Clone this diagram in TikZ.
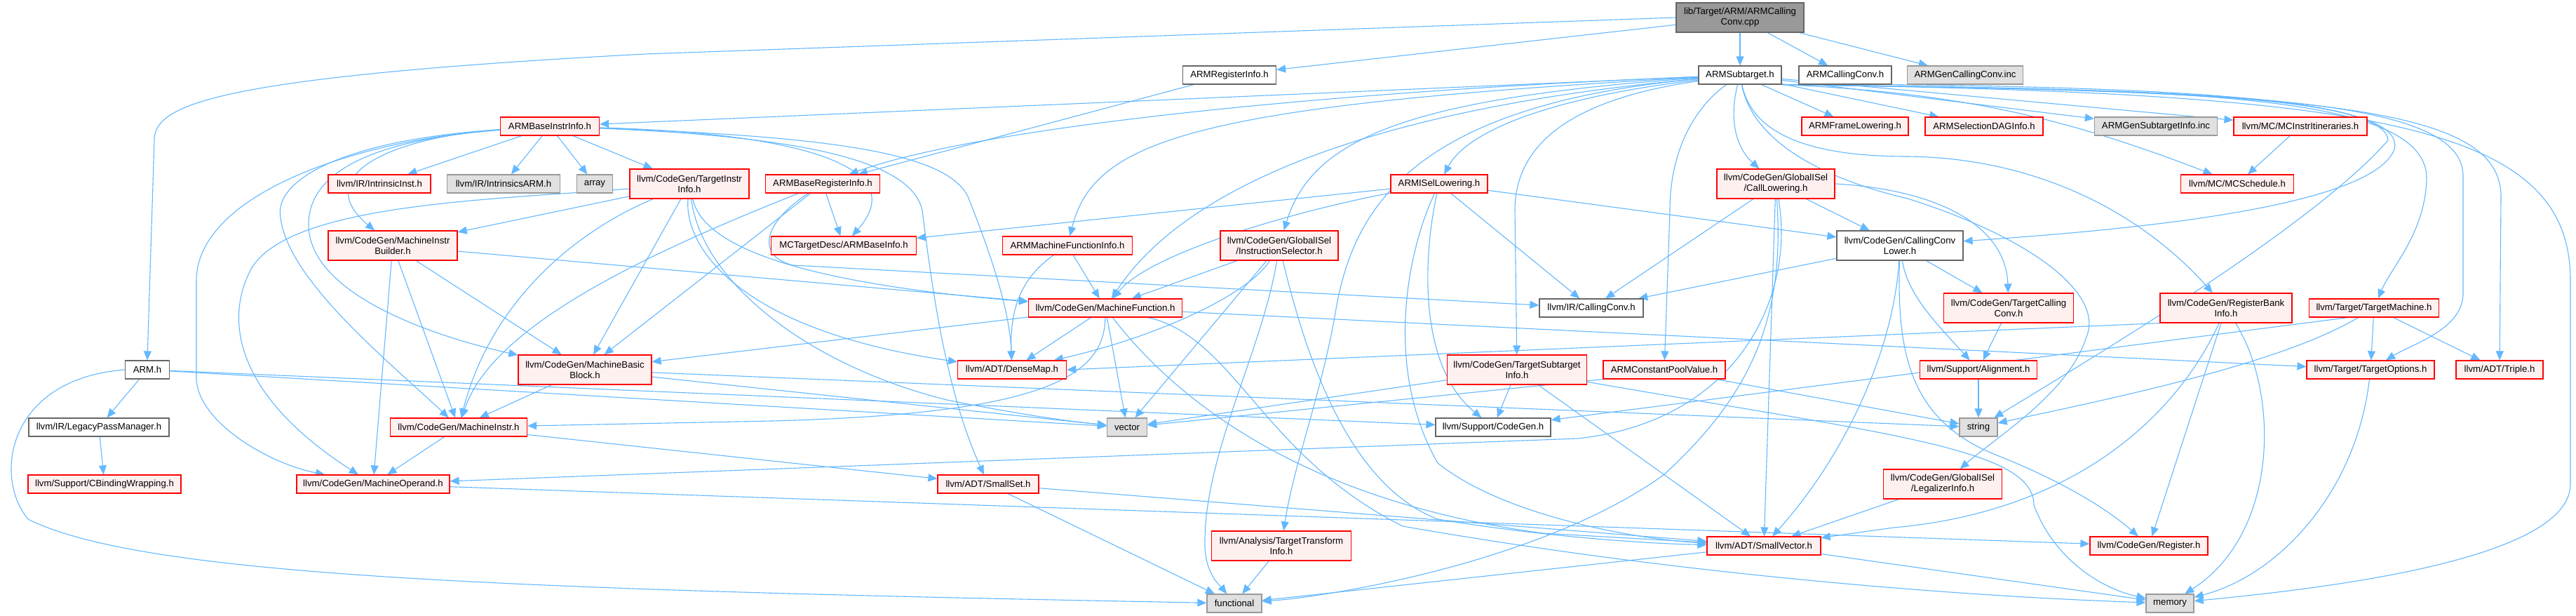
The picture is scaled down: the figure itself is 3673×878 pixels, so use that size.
\documentclass[tikz,border=0pt]{standalone}
\usepackage{fontspec}
\setmainfont{Liberation Sans}
\usetikzlibrary{arrows.meta,backgrounds}
\definecolor{edgec}{RGB}{99,184,255}
\definecolor{redfill}{RGB}{255,240,240}
\definecolor{redline}{RGB}{255,0,0}
\definecolor{grayfill}{RGB}{224,224,224}
\definecolor{grayline}{RGB}{153,153,153}
\definecolor{darkline}{RGB}{102,102,102}
\definecolor{topfill}{RGB}{153,153,153}
\begin{document}
\begin{tikzpicture}[x=1pt,y=-1pt,
 nd/.style={draw, line width=1.2pt, inner sep=0pt, minimum height=26pt, align=center, font=\fontsize{13.2}{15}\selectfont},
 rd/.style={nd, draw=redline, fill=redfill},
 wt/.style={nd, draw=darkline, fill=white},
 gy/.style={nd, draw=grayline, fill=grayfill},
 tp/.style={nd, draw=darkline, fill=topfill},
 two/.style={minimum height=42pt},
 lnk/.style={draw=edgec, line width=1.1pt, -{Triangle[length=13pt,width=11pt]}}
]
\useasboundingbox (0,0) rectangle (3673,878);
% ---------- nodes ----------
\node[tp,two,minimum width=182pt] (top) at (2481,25) {lib/Target/ARM/ARMCalling\\Conv.cpp};
\node[wt,minimum width=118pt] (sub) at (2481,107) {ARMSubtarget.h};
\node[wt,minimum width=133pt] (regi) at (1753,107) {ARMRegisterInfo.h};
\node[wt,minimum width=132pt] (ccv) at (2631,107) {ARMCallingConv.h};
\node[gy,minimum width=165pt] (gencc) at (2802,107) {ARMGenCallingConv.inc};
\node[wt,minimum width=63pt] (armh) at (210,527) {ARM.h};
\node[rd,minimum width=141pt] (bii) at (784,180) {ARMBaseInstrInfo.h};
\node[rd,minimum width=152pt] (frl) at (2645,180) {ARMFrameLowering.h};
\node[rd,minimum width=168pt] (sdag) at (2829,180) {ARMSelectionDAGInfo.h};
\node[gy,minimum width=175pt] (gensub) at (3074,180) {ARMGenSubtargetInfo.inc};
\node[rd,minimum width=190pt] (itin) at (3280,180) {llvm/MC/MCInstrItineraries.h};
\node[rd,minimum width=146pt] (iinst) at (541,262) {llvm/IR/IntrinsicInst.h};
\node[gy,minimum width=161pt] (iarm) at (718,262) {llvm/IR/IntrinsicsARM.h};
\node[gy,minimum width=51pt] (array) at (848,262) {array};
\node[rd,two,minimum width=170pt] (tii) at (983,262) {llvm/CodeGen/TargetInstr\\Info.h};
\node[rd,minimum width=163pt] (bri) at (1173,262) {ARMBaseRegisterInfo.h};
\node[rd,minimum width=138pt] (isel) at (2052,262) {ARMISelLowering.h};
\node[rd,two,minimum width=168pt] (calll) at (2532,262) {llvm/CodeGen/GlobalISel\\/CallLowering.h};
\node[rd,minimum width=161pt] (sched) at (3190,262) {llvm/MC/MCSchedule.h};
\node[rd,two,minimum width=184pt] (mib) at (560,350) {llvm/CodeGen/MachineInstr\\Builder.h};
\node[rd,minimum width=207pt] (binfo) at (1203,350) {MCTargetDesc/ARMBaseInfo.h};
\node[rd,minimum width=185pt] (mfi) at (1522,350) {ARMMachineFunctionInfo.h};
\node[rd,two,minimum width=168pt] (isel2) at (1824,350) {llvm/CodeGen/GlobalISel\\/InstructionSelector.h};
\node[wt,two,minimum width=180pt] (ccl) at (2709,350) {llvm/CodeGen/CallingConv\\Lower.h};
\node[rd,minimum width=219pt] (mf) at (1576,439) {llvm/CodeGen/MachineFunction.h};
\node[wt,minimum width=148pt] (irc) at (2269,439) {llvm/IR/CallingConv.h};
\node[rd,two,minimum width=185pt] (tcc) at (2864,439) {llvm/CodeGen/TargetCalling\\Conv.h};
\node[rd,two,minimum width=188pt] (rbi) at (3174,439) {llvm/CodeGen/RegisterBank\\Info.h};
\node[rd,minimum width=185pt] (tm) at (3385,439) {llvm/Target/TargetMachine.h};
\node[rd,two,minimum width=190pt] (mbb) at (834,527) {llvm/CodeGen/MachineBasic\\Block.h};
\node[rd,minimum width=155pt] (dmap) at (1443,527) {llvm/ADT/DenseMap.h};
\node[rd,two,minimum width=199pt] (tsi) at (2163,527) {llvm/CodeGen/TargetSubtarget\\Info.h};
\node[rd,minimum width=174pt] (cpv) at (2373,527) {ARMConstantPoolValue.h};
\node[rd,minimum width=167pt] (align) at (2821,527) {llvm/Support/Alignment.h};
\node[rd,minimum width=182pt] (topt) at (3380,527) {llvm/Target/TargetOptions.h};
\node[rd,minimum width=124pt] (triple) at (3564,527) {llvm/ADT/Triple.h};
\node[wt,minimum width=200pt] (lpm) at (141,609) {llvm/IR/LegacyPassManager.h};
\node[rd,minimum width=195pt] (mi) at (654,609) {llvm/CodeGen/MachineInstr.h};
\node[gy,minimum width=57pt] (vector) at (1607,609) {vector};
\node[wt,minimum width=164pt] (cgen) at (2129,609) {llvm/Support/CodeGen.h};
\node[gy,minimum width=54pt] (string) at (2821,609) {string};
\node[rd,minimum width=218pt] (cbw) at (149,690) {llvm/Support/CBindingWrapping.h};
\node[rd,minimum width=218pt] (mop) at (532,690) {llvm/CodeGen/MachineOperand.h};
\node[rd,minimum width=144pt] (sset) at (1409,690) {llvm/ADT/SmallSet.h};
\node[rd,two,minimum width=169pt] (legal) at (2770,690) {llvm/CodeGen/GlobalISel\\/LegalizerInfo.h};
\node[rd,two,minimum width=199pt] (tti) at (1827,778) {llvm/Analysis/TargetTransform\\Info.h};
\node[rd,minimum width=162pt] (svec) at (2515,778) {llvm/ADT/SmallVector.h};
\node[rd,minimum width=168pt] (reg) at (3064,778) {llvm/CodeGen/Register.h};
\node[gy,minimum width=78pt] (func) at (1760,860) {functional};
\node[gy,minimum width=68pt] (mem) at (3094,860) {memory};
% ---------- edges ----------
\begin{pgfonlayer}{background}
\fill[white] (0,0) rectangle (3673,878);
% top file
\draw[lnk] (top.west) -- (920,77) .. controls (300,110) and (220,150) .. (220,200) -- (armh.north);
\draw[lnk] (top) -- (regi);
\draw[lnk] (top) -- (sub);
\draw[lnk] (top) -- (ccv);
\draw[lnk] (top) -- (gencc);
\draw[lnk] (regi) -- (bri);
% ARMSubtarget.h
\draw[lnk] (sub) -- (bii);
\draw[lnk] (sub) .. controls (1900,130) and (1400,180) .. (bri);
\draw[lnk] (sub) .. controls (1700,150) and (1560,200) .. (mfi);
\draw[lnk] (sub) .. controls (2000,150) and (1700,250) .. (mf);
\draw[lnk] (sub) .. controls (2200,140) and (2090,190) .. (isel);
\draw[lnk] (sub) .. controls (2000,140) and (1870,200) .. (isel2);
\draw[lnk] (sub) .. controls (2010,150) and (1930,300) .. (1905,440) .. controls (1885,560) and (1845,660) .. (tti);
\draw[lnk] (sub) .. controls (2250,140) and (2160,200) .. (2160,300) -- (tsi);
\draw[lnk] (sub) .. controls (2420,150) and (2381,210) .. (2381,300) -- (cpv);
\draw[lnk] (sub) .. controls (2465,170) and (2475,210) .. (calll);
\draw[lnk] (sub) -- (frl);
\draw[lnk] (sub) -- (sdag);
\draw[lnk] (sub) -- (gensub);
\draw[lnk] (sub) -- (itin);
\draw[lnk] (sub.south east) .. controls (2800,132) and (2950,170) .. (sched);
\draw[lnk] (sub) .. controls (2500,200) and (2600,223) .. (2720,223) .. controls (2900,225) and (3050,300) .. (rbi);
\draw[lnk] (sub) .. controls (2500,210) and (2620,260) .. (2720,283) .. controls (2900,340) and (3000,420) .. (2975,480) .. controls (2950,560) and (2850,620) .. (legal);
\draw[lnk] (sub.south east) .. controls (3000,128) and (3400,130) .. (3405,200) .. controls (3300,320) and (3000,500) .. (string);
\draw[lnk] (sub.south east) .. controls (3100,128) and (3450,130) .. (3460,250) .. controls (3460,330) and (3410,380) .. (tm);
\draw[lnk] (sub.south east) .. controls (3200,128) and (3510,140) .. (3512,250) -- (3512,420) .. controls (3510,470) and (3440,490) .. (topt);
\draw[lnk] (sub.south east) .. controls (3300,130) and (3566,150) .. (3566,280) -- (triple);
\draw[lnk] (sub.south east) .. controls (3400,132) and (3665,180) .. (3665,400) -- (3665,690) .. controls (3665,800) and (3300,840) .. (mem);
\draw[lnk] (ccv.south east) .. controls (3200,126) and (3430,150) .. (3414,213) .. controls (3380,300) and (3000,330) .. (ccl);
% ARMBaseInstrInfo.h
\draw[lnk] (bii) -- (iinst);
\draw[lnk] (bii) -- (iarm);
\draw[lnk] (bii) -- (array);
\draw[lnk] (bii) -- (tii);
\draw[lnk] (bii) .. controls (560,195) and (440,250) .. (mib);
\draw[lnk] (bii) .. controls (500,200) and (280,280) .. (280,400) -- (280,540) .. controls (282,600) and (380,660) .. (mop);
\draw[lnk] (bii) .. controls (480,200) and (390,260) .. (400,310) .. controls (410,400) and (560,520) .. (mi);
\draw[lnk] (bii) .. controls (520,200) and (440,250) .. (440,320) .. controls (440,420) and (620,480) .. (mbb);
\draw[lnk] (bii) .. controls (1150,190) and (1300,240) .. (binfo);
\draw[lnk] (bii) .. controls (1150,195) and (1300,230) .. (1315,300) .. controls (1330,420) and (1350,560) .. (sset);
\draw[lnk] (bii) .. controls (1200,195) and (1350,220) .. (1380,280) .. controls (1420,380) and (1440,450) .. (dmap);
% TargetInstrInfo.h
\draw[lnk] (tii) -- (mib);
\draw[lnk] (tii) .. controls (700,285) and (420,290) .. (360,380) .. controls (320,450) and (330,560) .. (mop);
\draw[lnk] (tii) .. controls (820,330) and (700,430) .. (mi);
\draw[lnk] (tii) -- (mbb);
\draw[lnk] (tii) .. controls (1000,340) and (1100,400) .. (mf);
\draw[lnk] (tii) .. controls (975,350) and (1050,470) .. (dmap);
\draw[lnk] (tii) .. controls (1000,400) and (1150,520) .. (1350,570) .. controls (1450,590) and (1520,600) .. (vector);
% ARMBaseRegisterInfo.h
\draw[lnk] (bri) -- (binfo);
\draw[lnk] (bri) -- (mbb);
\draw[lnk] (bri) .. controls (900,370) and (700,470) .. (mi);
\draw[lnk] (bri) .. controls (1085,320) and (1080,365) .. (1130,378) -- (irc);
% ARMMachineFunctionInfo.h
\draw[lnk] (mfi) .. controls (1450,400) and (1440,450) .. (dmap);
\draw[lnk] (mfi) -- (mf);
% ARMISelLowering.h
\draw[lnk] (isel) -- (binfo);
\draw[lnk] (isel) .. controls (1850,300) and (1640,360) .. (mf);
\draw[lnk] (isel) -- (irc);
\draw[lnk] (isel) -- (ccl);
\draw[lnk] (isel) .. controls (2010,350) and (1970,520) .. (2050,660) .. controls (2150,740) and (2350,770) .. (svec);
\draw[lnk] (isel) .. controls (2030,360) and (2020,520) .. (cgen);
% InstructionSelector.h
\draw[lnk] (isel2) -- (mf);
\draw[lnk] (isel2) .. controls (1780,420) and (1650,480) .. (dmap);
\draw[lnk] (isel2) -- (vector);
\draw[lnk] (isel2) .. controls (1800,500) and (1715,650) .. (1718,780) .. controls (1720,820) and (1740,835) .. (func);
\draw[lnk] (isel2) .. controls (1860,500) and (1920,690) .. (2050,740) .. controls (2200,765) and (2350,775) .. (svec);
% CallLowering.h
\draw[lnk] (calll) -- (irc);
\draw[lnk] (calll) -- (ccl);
\draw[lnk] (calll.east) .. controls (2760,270) and (2860,320) .. (tcc);
\draw[lnk] (calll) -- (svec);
\draw[lnk] (calll) .. controls (2545,450) and (2500,560) .. (2372,677) .. controls (2200,800) and (1900,850) .. (func);
\draw[lnk] (calll) .. controls (2560,420) and (2480,600) .. (2250,625) -- (mop);
% CallingConvLower.h
\draw[lnk] (ccl) -- (irc);
\draw[lnk] (ccl) -- (tcc);
\draw[lnk] (ccl) .. controls (2700,500) and (2630,650) .. (svec);
\draw[lnk] (ccl) .. controls (2705,500) and (2720,600) .. (2850,650) .. controls (2950,690) and (3010,730) .. (reg);
\draw[lnk] (ccl) .. controls (2720,420) and (2760,460) .. (align);
\draw[lnk] (tcc) -- (align);
\draw[lnk] (align) -- (string);
% RegisterBankInfo.h
\draw[lnk] (rbi.south west) -- (dmap.east);
\draw[lnk] (rbi) .. controls (3100,600) and (2950,730) .. (2700,752) -- (svec);
\draw[lnk] (rbi) -- (reg);
\draw[lnk] (rbi) .. controls (3250,560) and (3250,760) .. (mem);
% TargetMachine.h
\draw[lnk] (tm) -- (topt);
\draw[lnk] (tm) -- (triple);
\draw[lnk] (tm) .. controls (3250,520) and (3000,570) .. (string);
\draw[lnk] (tm.200) -- (cgen);
\draw[lnk] (topt) .. controls (3360,700) and (3250,820) .. (mem);
\draw[lnk] (itin) -- (sched);
% MachineFunction.h
\draw[lnk] (mf) -- (mbb);
\draw[lnk] (mf) -- (dmap);
\draw[lnk] (mf) -- (vector);
\draw[lnk] (mf) .. controls (1575,540) and (1480,590) .. (1100,600) -- (mi);
\draw[lnk] (mf) .. controls (1700,600) and (1900,720) .. (2200,760) -- (svec);
\draw[lnk] (mf) -- (topt);
\draw[lnk] (mf) .. controls (1760,480) and (1800,650) .. (2000,750) .. controls (2400,820) and (2800,850) .. (mem);
% MachineInstrBuilder.h
\draw[lnk] (mib) -- (mf);
\draw[lnk] (mib) -- (mop);
\draw[lnk] (mib) -- (mbb);
\draw[lnk] (mib) -- (mi);
% MachineBasicBlock.h
\draw[lnk] (mbb) -- (mi);
\draw[lnk] (mbb) -- (string);
\draw[lnk] (mbb) -- (vector);
% MachineInstr.h / MachineOperand.h
\draw[lnk] (mi) -- (mop);
\draw[lnk] (mi) -- (sset);
\draw[lnk] (mop) -- (reg);
% ARM.h
\draw[lnk] (armh) -- (lpm);
\draw[lnk] (armh.west) .. controls (10,540) and (-10,680) .. (40,740) .. controls (200,820) and (700,840) .. (func);
\draw[lnk] (armh) -- (vector);
\draw[lnk] (armh) -- (cgen);
\draw[lnk] (lpm) -- (cbw);
% small ADT
\draw[lnk] (sset) -- (svec);
\draw[lnk] (sset) -- (func);
\draw[lnk] (svec) -- (func);
\draw[lnk] (svec) -- (mem);
\draw[lnk] (tti) -- (func);
% TargetSubtargetInfo.h
\draw[lnk] (tsi) -- (cgen);
\draw[lnk] (tsi) -- (svec);
\draw[lnk] (tsi) -- (vector);
\draw[lnk] (tsi) .. controls (2700,620) and (2900,640) .. (2900,720) .. controls (2930,800) and (3000,840) .. (mem);
% ARMConstantPoolValue.h
\draw[lnk] (cpv) -- (string);
\draw[lnk] (cpv.south west) -- (vector);
\draw[lnk] (legal) -- (svec);
\end{pgfonlayer}
\end{tikzpicture}
\end{document}
